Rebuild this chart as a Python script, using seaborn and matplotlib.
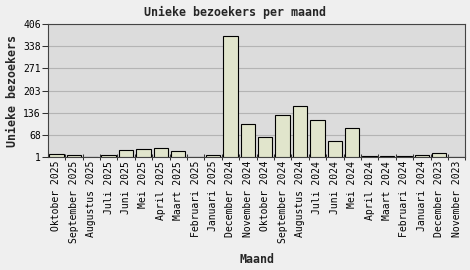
import matplotlib
matplotlib.use("Agg")
import matplotlib.pyplot as plt
import seaborn as sns
import pandas as pd
import numpy as np

months = ["Oktober 2025", "September 2025", "Augustus 2025", "Juli 2025", "Juni 2025",
          "Mei 2025", "April 2025", "Maart 2025", "Februari 2025", "Januari 2025",
          "December 2024", "November 2024", "Oktober 2024", "September 2024",
          "Augustus 2024", "Juli 2024", "Juni 2024", "Mei 2024", "April 2024",
          "Maart 2024", "Februari 2024", "Januari 2024", "December 2023", "November 2023"]
visitors = [8, 5, 0, 5, 21, 24, 27, 18, 0, 5,
            369, 100, 60, 128, 155, 112, 48, 88, 3,
            3, 3, 6, 12, 0]
ytick_values = [1, 68.5, 136, 203.5, 271, 338.5, 406]
ytick_labels = ["1", "68", "136", "203", "271", "338", "406"]

sns.set_theme(style="white")
plt.rcParams['font.family'] = ['DejaVu Sans Mono', 'DejaVu Sans']

df = pd.DataFrame({"Maand": months, "Unieke bezoekers": visitors})

fig = plt.figure(figsize=(4.7, 2.7), dpi=100, facecolor="#efefef")
ax = fig.add_axes([0.1015, 0.4196, 0.8885, 0.4904])
ax.set_facecolor("#dcdcdc")

sns.barplot(data=df, x="Maand", y="Unieke bezoekers", color="#e1e5cc",
            edgecolor="black", linewidth=0.8, width=0.83, saturation=1, ax=ax, zorder=3)

ax.set_ylim(1, 406)
ax.set_xlim(-0.5, len(months) - 0.5)
ax.set_yticks(ytick_values)
ax.set_yticklabels(ytick_labels, fontsize=7)
ax.yaxis.grid(True, color="#b4b4b4", linewidth=0.8, zorder=0)
ax.set_axisbelow(True)

ax.set_xticks(range(len(months)))
ax.set_xticklabels(months, rotation=90, fontsize=7)
ax.set_xticks(np.arange(len(months)) + 0.5, minor=True)
ax.tick_params(axis="x", which="major", length=0, pad=3, colors="black")
ax.tick_params(axis="x", which="minor", length=5, direction="inout", width=0.75, color="#333333", bottom=True)
ax.tick_params(axis="y", which="major", length=4, direction="out", width=0.75, color="#333333", left=True, pad=1, labelcolor="black")

for s in ax.spines.values():
    s.set_color("#444444")
    s.set_linewidth(0.8)

ax.set_xlabel("Maand", fontsize=8.4, fontweight="bold", va="baseline")
ax.xaxis.set_label_coords(0.5, -0.80)
ax.set_ylabel("Unieke bezoekers", fontsize=8.4, fontweight="bold", va="center")
ax.yaxis.set_label_coords(-0.085, 0.5)

fig.text(0.5, 0.955, "Unieke bezoekers per maand", ha="center", va="center",
         fontsize=8.4, fontweight="bold")

fig.savefig("out.png", dpi=100, facecolor=fig.get_facecolor())
